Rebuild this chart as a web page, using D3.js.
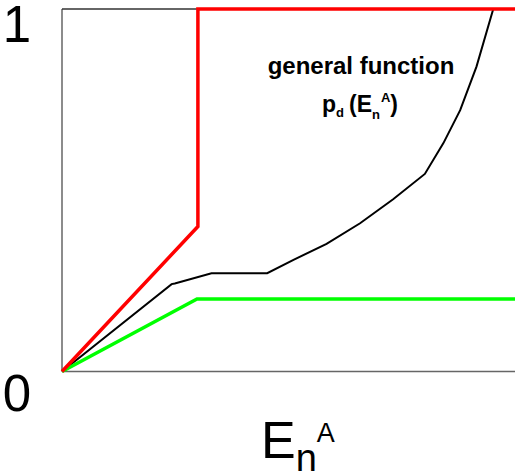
<!DOCTYPE html>
<html>
<head>
<meta charset="utf-8">
<script src="https://cdn.jsdelivr.net/npm/d3@7"></script>
<style>
  body { margin: 0; background: #fff; }
  text { font-family: Arial, "Liberation Sans", sans-serif; }
</style>
</head>
<body>
<div id="chart"></div>
<script>
// upper bound (red), lower bound (green) and general function (black)
const upperX = [0, 0.300, 0.300, 1.0];
const upperY = [0, 0.40, 1.0, 1.0];
const lowerX = [0, 0.298, 1.0];
const lowerY = [0, 0.20, 0.20];
const generalX = [0, 0.242, 0.249, 0.330, 0.453, 0.511, 0.584, 0.658, 0.731, 0.801, 0.842, 0.879, 0.915, 0.952];
const generalY = [0, 0.241, 0.243, 0.271, 0.271, 0.308, 0.352, 0.409, 0.475, 0.545, 0.630, 0.721, 0.841, 1.0];
const yTicks = [0, 1];

const width = 515;
const height = 473;

const x = d3.scaleLinear().domain([0, 1]).range([62, 515]);
const y = d3.scaleLinear().domain([0, 1]).range([371.5, 9]);

const svg = d3.select("#chart")
  .append("svg")
  .attr("width", width)
  .attr("height", height);

// plot frame (left, bottom and top edges)
svg.append("line")
  .attr("x1", x(0)).attr("x2", x(0))
  .attr("y1", y(0)).attr("y2", y(1))
  .attr("stroke", "#666").attr("stroke-width", 1.5);
svg.append("line")
  .attr("x1", x(0)).attr("x2", x(1))
  .attr("y1", y(0)).attr("y2", y(0))
  .attr("stroke", "#666").attr("stroke-width", 1.5);
svg.append("line")
  .attr("x1", x(0)).attr("x2", x(1))
  .attr("y1", y(1)).attr("y2", y(1))
  .attr("stroke", "#333").attr("stroke-width", 1.5);

const line = d3.line()
  .x(d => x(d[0]))
  .y(d => y(d[1]));

function drawSeries(xs, ys, color, w) {
  svg.append("path")
    .datum(xs.map((v, i) => [v, ys[i]]))
    .attr("d", line)
    .attr("fill", "none")
    .attr("stroke", color)
    .attr("stroke-width", w)
    .attr("stroke-linejoin", "miter");
}

drawSeries(generalX, generalY, "#000", 2);
drawSeries(lowerX, lowerY, "#00ff00", 3.5);
drawSeries(upperX, upperY, "#ff0000", 3.5);

// y tick labels
svg.selectAll(".ytick")
  .data(yTicks)
  .enter()
  .append("text")
  .attr("class", "ytick")
  .attr("x", 17)
  .attr("y", d => d === 1 ? 42 : 411)
  .attr("text-anchor", "middle")
  .style("font-size", "51px")
  .text(d => d);

// annotation
svg.append("text")
  .attr("x", 361)
  .attr("y", 74)
  .attr("text-anchor", "middle")
  .style("font-size", "24px")
  .style("font-weight", "bold")
  .text("general function");

const ann = svg.append("text")
  .attr("x", 322)
  .attr("y", 112)
  .style("font-size", "23px")
  .style("font-weight", "bold");
ann.append("tspan").text("p");
ann.append("tspan").attr("dy", 5).style("font-size", "13px").text("d");
ann.append("tspan").attr("dy", -5).attr("dx", 5).text("(E");
ann.append("tspan").attr("dy", 7).style("font-size", "13px").text("n");
ann.append("tspan").attr("dy", -17).attr("dx", 1).style("font-size", "13px").text("A");
ann.append("tspan").attr("dy", 10).text(")");

// x axis label
const xl = svg.append("text")
  .attr("x", 261)
  .attr("y", 458)
  .style("font-size", "52px");
xl.append("tspan").text("E");
xl.append("tspan").attr("dy", 13).style("font-size", "38px").text("n");
xl.append("tspan").attr("dy", -29).style("font-size", "27px").text("A");
</script>
</body>
</html>
